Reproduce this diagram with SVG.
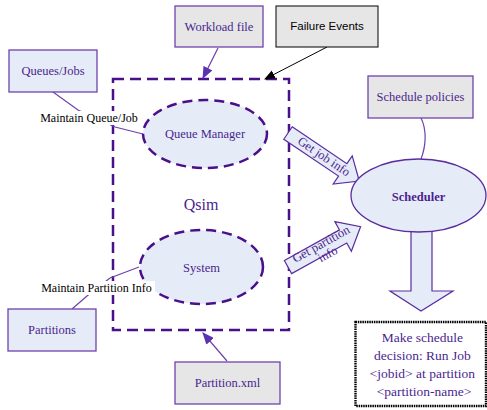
<svg xmlns="http://www.w3.org/2000/svg" width="487" height="410" viewBox="0 0 487 410">
  <style>
    .box-gray { fill: #e6e6e6; stroke: #6f42ad; stroke-width: 1.3; }
    .box-blue { fill: #e6ecf7; stroke: #6f42ad; stroke-width: 1.3; }
    .lbl { font-family: "Liberation Serif", "Times New Roman", serif; font-size: 12.5px; fill: #4b1f8f; text-anchor: middle; }
    .edge-lbl { font-family: "Liberation Serif", "Times New Roman", serif; font-size: 12px; fill: #000; text-anchor: middle; }
    .dash-ell { fill: #e6ecf7; stroke: #4a0f8a; stroke-width: 2.5; stroke-dasharray: 10 6; }
    .block { fill: #e6ecf7; stroke: #5a2ca0; stroke-width: 1.2; stroke-linejoin: miter; }
    .conn { fill: none; stroke: #6f42ad; stroke-width: 1.2; }
  </style>
  <defs>
    <marker id="arrow-purple" viewBox="0 0 12 10" refX="11" refY="5" markerWidth="12" markerHeight="10" markerUnits="userSpaceOnUse" orient="auto">
      <path d="M0,0 L12,5 L0,10 z" fill="#5b32b0"/>
    </marker>
    <marker id="arrow-black" viewBox="0 0 10 10" refX="9" refY="5" markerWidth="11" markerHeight="11" markerUnits="userSpaceOnUse" orient="auto">
      <path d="M0,1 L10,5 L0,9 z" fill="#000"/>
    </marker>
  </defs>

  <rect width="487" height="410" fill="#fff"/>

  <!-- Qsim cluster -->
  <g id="qsim">
    <rect x="113" y="79" width="176" height="251" fill="none" stroke="#4a0f8a" stroke-width="2.5" stroke-dasharray="11 6"/>
    <text x="201" y="210" class="lbl" style="font-size:16px">Qsim</text>
  </g>

  <!-- connectors -->
  <g id="connectors">
    <path class="conn" d="M218,48 L203,78" marker-end="url(#arrow-purple)"/>
    <path d="M327,47 L265,79" fill="none" stroke="#000" stroke-width="1" marker-end="url(#arrow-black)"/>
    <path class="conn" d="M227,361 L203,333" marker-end="url(#arrow-purple)"/>
    <path class="conn" d="M53,92 L78,110 L115,127 L143,134"/>
    <path class="conn" d="M72,309 L87,296 L110,278 L139,267"/>
    <path class="conn" d="M421,118 C427,130 426,146 421,159"/>
  </g>

  <!-- block arrows -->
  <g id="get-job-info" transform="translate(288,133) rotate(34)">
    <polygon class="block" points="0,-7.5 66,-7.5 66,-17 86,0 66,17 66,7.5 0,7.5"/>
    <text x="43" y="3.5" class="lbl" style="font-size:12.5px">Get job info</text>
  </g>
  <g id="get-partition-info" transform="translate(288,267) rotate(-29)">
    <polygon class="block" points="0,-7.5 63,-7.5 63,-17 83,0 63,17 63,7.5 0,7.5"/>
    <text x="40" y="0" class="lbl" style="font-size:12.5px">Get partition</text>
    <text x="41" y="12" class="lbl" style="font-size:12.5px">info</text>
  </g>
  <g id="decide-arrow">
    <polygon class="block" points="411,226 411,291 390,291 421,311 453,291 432,291 432,226"/>
  </g>

  <!-- nodes -->
  <g id="workload-file">
    <rect class="box-gray" x="175" y="6" width="88" height="41"/>
    <text x="219" y="31" class="lbl">Workload file</text>
  </g>
  <g id="failure-events">
    <rect x="276" y="6" width="102" height="41" fill="#e6e6e6" stroke="#000" stroke-width="1"/>
    <text x="327" y="30" style="font-family:'Liberation Sans',Arial,sans-serif;font-size:11.5px;text-anchor:middle;fill:#000">Failure Events</text>
  </g>
  <g id="queues-jobs">
    <rect class="box-blue" x="9" y="50" width="88" height="42"/>
    <text x="53" y="75" class="lbl">Queues/Jobs</text>
  </g>
  <g id="schedule-policies">
    <rect class="box-gray" x="368" y="76" width="105" height="42"/>
    <text x="420.5" y="101" class="lbl">Schedule policies</text>
  </g>
  <g id="partitions">
    <rect class="box-blue" x="8" y="309" width="88" height="42"/>
    <text x="52" y="334" class="lbl">Partitions</text>
  </g>
  <g id="partition-xml">
    <rect class="box-gray" x="175" y="362" width="105" height="42"/>
    <text x="227.5" y="387" class="lbl">Partition.xml</text>
  </g>
  <g id="queue-manager">
    <ellipse class="dash-ell" cx="205" cy="134" rx="62" ry="34"/>
    <text x="205" y="138" class="lbl">Queue Manager</text>
  </g>
  <g id="system">
    <ellipse class="dash-ell" cx="201.5" cy="267" rx="61.5" ry="37"/>
    <text x="201.5" y="272" class="lbl">System</text>
  </g>
  <g id="scheduler">
    <ellipse cx="418.5" cy="195.5" rx="67.5" ry="36.5" fill="#e6ecf7" stroke="#5a2ca0" stroke-width="1.3"/>
    <text x="418.5" y="201" class="lbl" style="font-weight:bold">Scheduler</text>
  </g>
  <g id="decision">
    <rect x="355.5" y="322" width="130.5" height="84" fill="#fff" stroke="#000" stroke-width="2.4" stroke-dasharray="1.5 0.8"/>
    <text class="lbl" style="font-size:13.5px">
      <tspan x="424" y="342">Make schedule</tspan>
      <tspan x="424" y="360">decision: Run Job</tspan>
      <tspan x="424" y="378">&lt;jobid&gt; at partition</tspan>
      <tspan x="424" y="396">&lt;partition-name&gt;</tspan>
    </text>
  </g>

  <!-- edge labels -->
  <g id="label-queue-job">
    <rect x="38" y="111" width="102" height="14" fill="#fff"/>
    <text x="89" y="122" class="edge-lbl">Maintain Queue/Job</text>
  </g>
  <g id="label-partition-info">
    <rect x="38" y="281" width="117" height="14" fill="#fff"/>
    <text x="96.5" y="292" class="edge-lbl">Maintain Partition Info</text>
  </g>
</svg>
